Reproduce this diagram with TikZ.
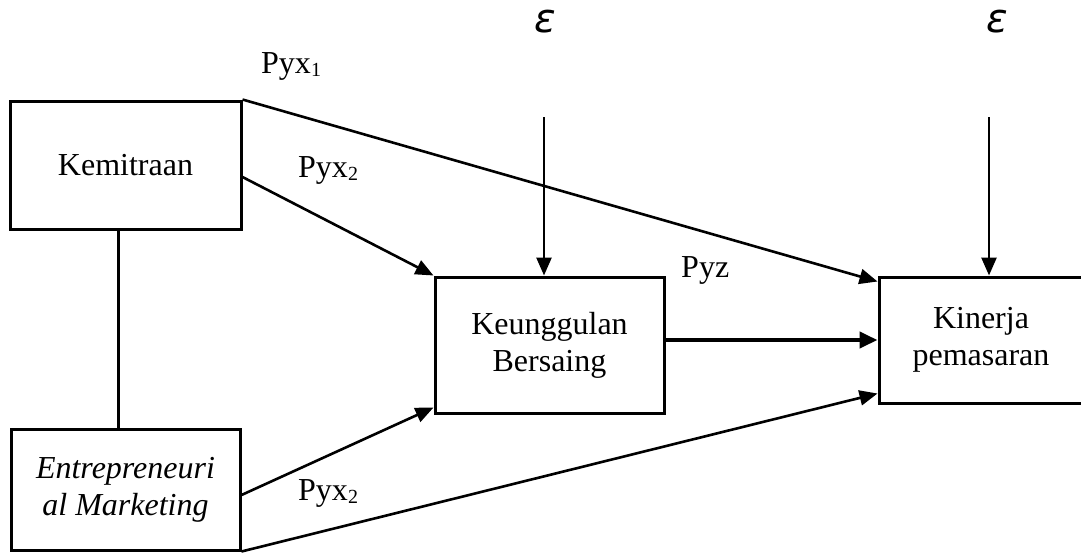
\documentclass[tikz,border=0pt]{standalone}
\usepackage{fontspec}
\setmainfont{Liberation Serif}
\newfontfamily\epsfont{DejaVu Sans}
\usetikzlibrary{arrows.meta}

\tikzset{
  varbox/.style={draw, line width=3pt, align=center, inner sep=0pt,
    font=\fontsize{32}{37}\selectfont},
  path/.style={line width=2.6pt, -{Triangle[length=18pt,width=15pt]}},
  corr/.style={line width=2.6pt},
  coef/.style={anchor=base west, inner sep=0pt, font=\fontsize{32}{37}\selectfont},
  errterm/.style={inner sep=0pt, font=\epsfont\itshape\fontsize{40}{40}\selectfont},
}
\newcommand{\sub}[1]{{\fontsize{20}{20}\selectfont\raisebox{-3pt}{#1}}}

\begin{document}
\begin{tikzpicture}[x=1pt,y=-1pt]
  \useasboundingbox (0,0) rectangle (1081,552);
  \clip (0,0) rectangle (1081,552);

  % variables
  \node[varbox, minimum width=231pt, minimum height=128pt] (kem) at (125.5,165) {Kemitraan};
  \node[varbox, minimum width=229pt, minimum height=121pt] (ent) at (125.5,489.5)
    {\raisebox{-4pt}{\itshape Entrepreneuri}\\\raisebox{-4pt}{\itshape al Marketing}};
  \node[varbox, minimum width=229pt, minimum height=136pt] (keu) at (549.5,345)
    {Keunggulan\\Bersaing};
  \node[varbox, minimum width=204pt, minimum height=126pt] (kin) at (981,340)
    {Kinerja\\pemasaran};

  % error terms
  \node[errterm] (eps1) at (545,22) {ε};
  \node[errterm] (eps2) at (997,22) {ε};
  \coordinate (e1) at (544,117);
  \coordinate (e2) at (989,117);
  \draw[path] (e1) -- (e1 |- keu.north);
  \draw[path] (e2) -- (e2 |- kin.north);

  % correlation between the exogenous variables
  \draw[corr] ([xshift=110pt]kem.south west) -- ([xshift=109pt]ent.north west);

  % paths
  \draw[path] (kem.north east) -- ([yshift=-6pt]kin.north west);
  \draw[path] ([yshift=-12pt]kem.east) -- (keu.north west);
  \draw[path] ([yshift=-5.5pt]ent.east) -- ([yshift=7pt]keu.south west);
  \draw[path] (ent.south east) -- ([yshift=11pt]kin.south west);
  \draw[line width=4.2pt, -{Triangle[length=18pt,width=16pt]}] (keu.east |- kin.west) -- (kin.west);

  % path coefficients
  \node[coef] (p1) at (261,73) {Pyx\sub{1}};
  \node[coef] (p2) at (298,177) {Pyx\sub{2}};
  \node[coef] (p3) at (681,277) {Pyz};
  \node[coef] (p4) at (298,500) {Pyx\sub{2}};
\end{tikzpicture}
\end{document}
